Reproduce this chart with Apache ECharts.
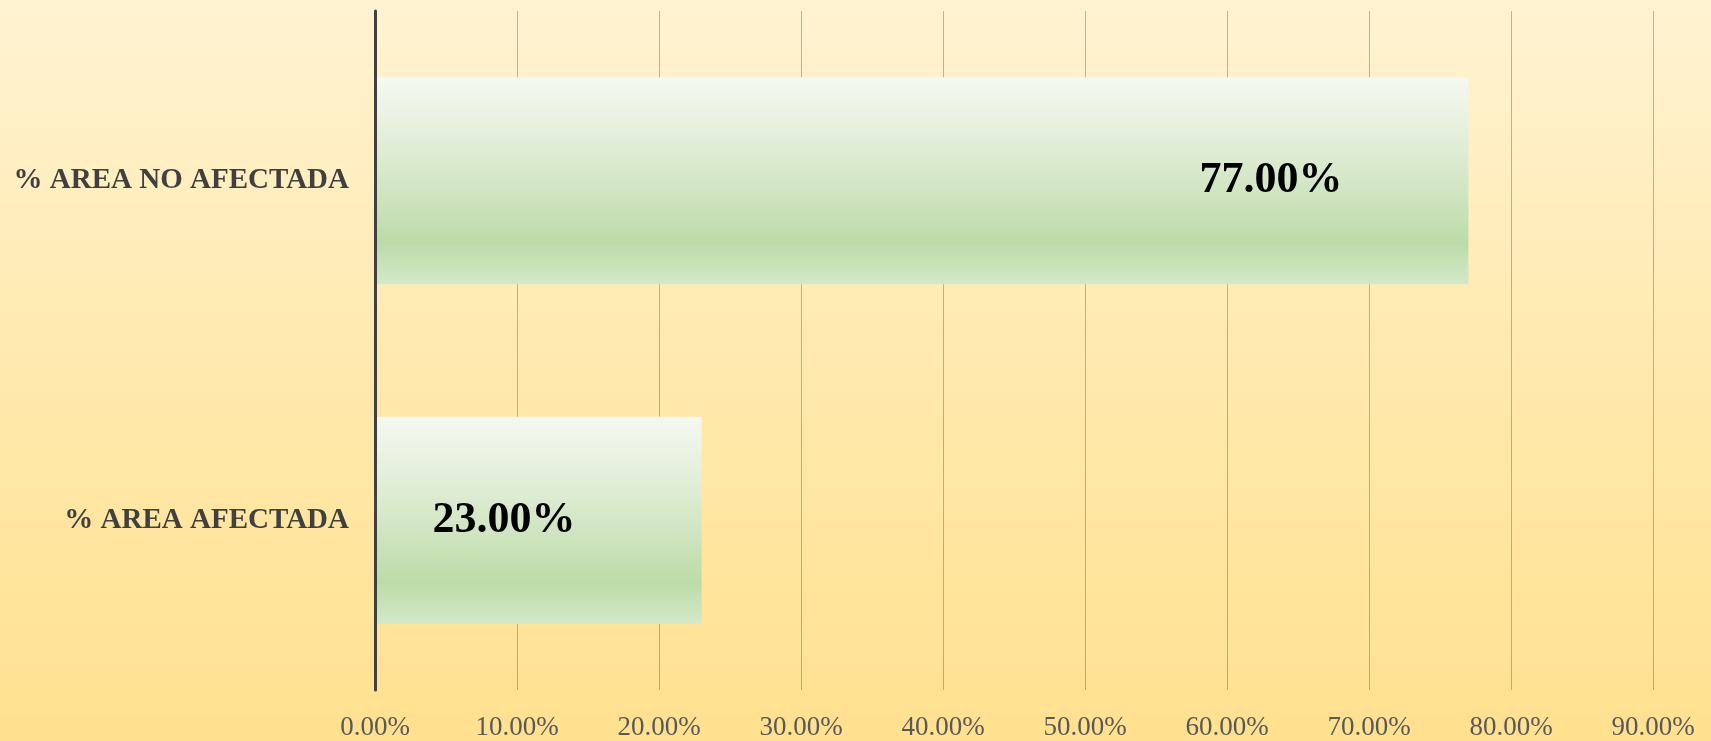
<!DOCTYPE html>
<html>
<head>
<meta charset="utf-8">
<script src="https://cdn.jsdelivr.net/npm/echarts@6/dist/echarts.min.js"></script>
<style>
    html, body {margin: 0; padding: 0;}
    #chart {width: 1711px; height: 741px;}
</style>
</head>
<body>
<div id="chart"></div>
<script>
    // categories from bottom to top, as in the sheet
    var categories = ['% AREA AFECTADA', '% AREA NO AFECTADA'];
    var percentValues = [23, 77];
    var axisMax = 90;
    var axisStep = 10;

    var myChart = echarts.init(document.getElementById('chart'));

    var option = {
        backgroundColor: new echarts.graphic.LinearGradient(0, 0, 0, 1, [
            {offset: 0, color: '#fff3d2'},
            {offset: 0.5, color: '#ffe9ad'},
            {offset: 1, color: '#ffe18f'}
        ]),
        grid: {
            left: 375,
            right: 58,
            top: 11,
            bottom: 51,
            containLabel: false
        },
        xAxis: {
            type: 'value',
            min: 0,
            max: axisMax,
            interval: axisStep,
            axisLine: {show: false},
            axisTick: {show: false},
            splitLine: {
                show: true,
                lineStyle: {color: 'rgba(110,100,80,0.45)', width: 1}
            },
            axisLabel: {
                margin: 24,
                color: '#595959',
                fontFamily: 'Liberation Serif',
                fontSize: 27,
                formatter: function (v) {
                    return v.toFixed(2) + '%';
                }
            }
        },
        yAxis: {
            type: 'category',
            data: categories,
            z: 5,
            axisLine: {
                show: true,
                lineStyle: {color: '#404040', width: 3}
            },
            axisTick: {show: false},
            axisLabel: {
                margin: 26,
                color: '#404040',
                fontFamily: 'Liberation Serif',
                fontWeight: 'bold',
                fontSize: 29
            }
        },
        series: [
            {
                type: 'bar',
                data: percentValues,
                barWidth: '61%',
                itemStyle: {
                    color: new echarts.graphic.LinearGradient(0, 0, 0, 1, [
                        {offset: 0, color: '#f5f9f2'},
                        {offset: 0.4, color: '#dcebd0'},
                        {offset: 0.8, color: '#bddba8'},
                        {offset: 1, color: '#d3e9c8'}
                    ])
                },
                label: {
                    show: true,
                    position: 'insideRight',
                    distance: 126,
                    color: '#000',
                    fontFamily: 'Liberation Serif',
                    fontWeight: 'bold',
                    fontSize: 44,
                    formatter: function (p) {
                        return p.value.toFixed(2) + '%';
                    }
                }
            }
        ]
    };

    myChart.setOption(option);
</script>
</body>
</html>
